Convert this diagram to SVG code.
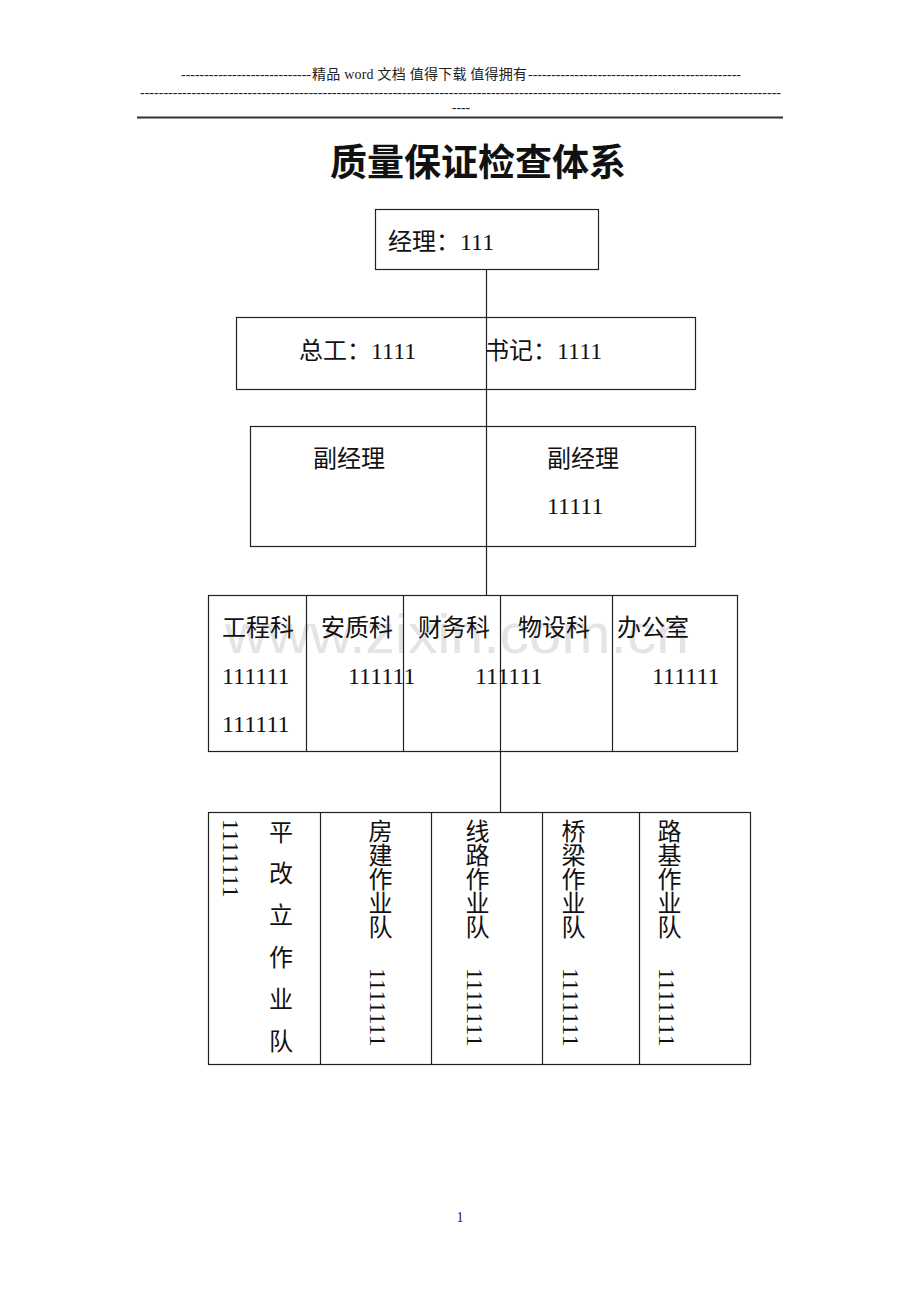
<svg xmlns="http://www.w3.org/2000/svg" width="920" height="1302" viewBox="0 0 920 1302">
<style>
.hd{font-family:"Liberation Serif","Noto Sans CJK SC",serif;font-size:14px;fill:#222}
.t{font-family:"Liberation Serif","Noto Sans CJK SC",serif;font-size:24px;fill:#111}
.v{font-family:"Liberation Serif","Noto Sans CJK SC",serif;font-size:24px;fill:#111;writing-mode:vertical-rl}
.box{fill:none;stroke:#222;stroke-width:1.2}
.ln{stroke:#222;stroke-width:1.2;fill:none}
</style>
<rect width="920" height="1302" fill="#fff"/>
<g id="header">
<text class="hd" x="181" y="79" textLength="130" lengthAdjust="spacingAndGlyphs">----------------------------</text>
<text class="hd" x="312" y="79" textLength="215" lengthAdjust="spacing">精品 word 文档 值得下载 值得拥有</text>
<text class="hd" x="528" y="79" textLength="213" lengthAdjust="spacingAndGlyphs">----------------------------------------------</text>
<text class="hd" x="140" y="97" textLength="641" lengthAdjust="spacingAndGlyphs">-----------------------------------------------------------------------------------------------------------------------------------------</text>
<text class="hd" x="452" y="112" textLength="18" lengthAdjust="spacingAndGlyphs">----</text>
<line x1="137" y1="117.5" x2="783" y2="117.5" stroke="#333" stroke-width="2"/>
</g>
<text id="title" x="478" y="176" text-anchor="middle" font-family="'Noto Sans CJK SC',sans-serif" font-size="37" font-weight="bold" fill="#111">质量保证检查体系</text>
<text id="watermark" x="225" y="653" font-family="'Liberation Sans',sans-serif" font-size="55" fill="#e4e4e4" textLength="464" lengthAdjust="spacingAndGlyphs">www.zixin.com.cn</text>
<g id="connectors">
<line class="ln" x1="486.5" y1="269" x2="486.5" y2="595"/>
<line class="ln" x1="500.5" y1="752" x2="500.5" y2="812"/>
</g>
<g id="manager">
<rect class="box" x="375.5" y="209.5" width="223" height="60"/>
<text class="t" x="388" y="250">经理：111</text>
</g>
<g id="chief">
<rect class="box" x="236.5" y="317.5" width="459" height="72"/>
<text class="t" x="299" y="359">总工：1111</text>
<text class="t" x="485" y="359">书记：1111</text>
</g>
<g id="deputy">
<rect class="box" x="250.5" y="426.5" width="445" height="120"/>
<text class="t" x="313" y="467">副经理</text>
<text class="t" x="547" y="467">副经理</text>
<text class="t" x="547" y="514">11111</text>
</g>
<g id="departments">
<rect class="box" x="208.5" y="595.5" width="529" height="156"/>
<line class="ln" x1="306.5" y1="595.5" x2="306.5" y2="751.5"/>
<line class="ln" x1="403.5" y1="595.5" x2="403.5" y2="751.5"/>
<line class="ln" x1="500.5" y1="595.5" x2="500.5" y2="751.5"/>
<line class="ln" x1="612.5" y1="595.5" x2="612.5" y2="751.5"/>
<text class="t" x="222" y="636">工程科</text>
<text class="t" x="321" y="636">安质科</text>
<text class="t" x="418" y="636">财务科</text>
<text class="t" x="518" y="636">物设科</text>
<text class="t" x="617" y="636">办公室</text>
<text class="t" x="222" y="684">111111</text>
<text class="t" x="348" y="684">111111</text>
<text class="t" x="475" y="684">111111</text>
<text class="t" x="652" y="684">111111</text>
<text class="t" x="222" y="732">111111</text>
</g>
<g id="teams">
<rect class="box" x="208.5" y="812.5" width="542" height="252"/>
<line class="ln" x1="320.5" y1="812.5" x2="320.5" y2="1064.5"/>
<line class="ln" x1="431.5" y1="812.5" x2="431.5" y2="1064.5"/>
<line class="ln" x1="542.5" y1="812.5" x2="542.5" y2="1064.5"/>
<line class="ln" x1="639.5" y1="812.5" x2="639.5" y2="1064.5"/>
<text class="v" x="231" y="819">1111111</text>
<g font-family="'Noto Sans CJK SC',sans-serif" font-size="24" fill="#111" text-anchor="middle">
<text x="281" y="841">平</text>
<text x="281" y="882">改</text>
<text x="281" y="924">立</text>
<text x="281" y="966">作</text>
<text x="281" y="1008">业</text>
<text x="281" y="1050">队</text>
</g>
<text class="v" x="378" y="819">房建作业队</text>
<text class="v" x="378" y="968">1111111</text>
<text class="v" x="475" y="819">线路作业队</text>
<text class="v" x="475" y="968">1111111</text>
<text class="v" x="571" y="819">桥梁作业队</text>
<text class="v" x="571" y="968">1111111</text>
<text class="v" x="667" y="819">路基作业队</text>
<text class="v" x="667" y="968">1111111</text>
</g>
<text id="page" x="460" y="1222" text-anchor="middle" class="hd" font-size="13">1</text>
</svg>
